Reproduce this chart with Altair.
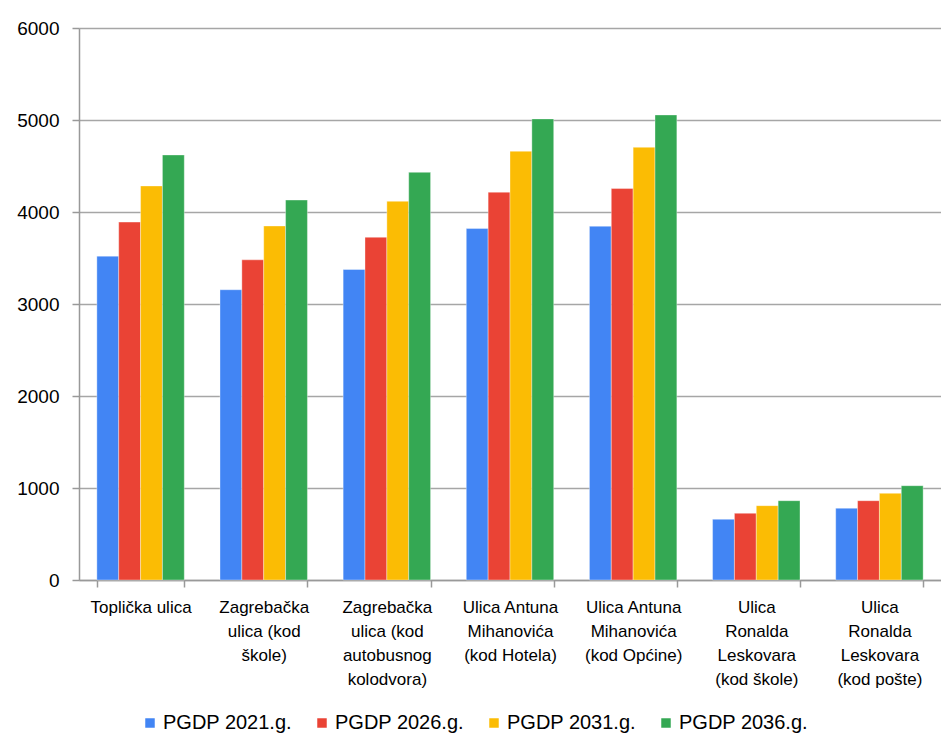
import altair as alt
import pandas as pd

categories = [
    "Toplička ulica",
    "Zagrebačka|ulica (kod|škole)",
    "Zagrebačka|ulica (kod|autobusnog|kolodvora)",
    "Ulica Antuna|Mihanovića|(kod Hotela)",
    "Ulica Antuna|Mihanovića|(kod Općine)",
    "Ulica|Ronalda|Leskovara|(kod škole)",
    "Ulica|Ronalda|Leskovara|(kod pošte)",
]
series = ["PGDP 2021.g.", "PGDP 2026.g.", "PGDP 2031.g.", "PGDP 2036.g."]
v2021 = [3520, 3155, 3375, 3820, 3845, 660, 780]
v2026 = [3890, 3480, 3725, 4215, 4255, 725, 862]
v2031 = [4283, 3848, 4116, 4660, 4703, 808, 942]
v2036 = [4620, 4130, 4431, 5012, 5055, 862, 1025]
colors = ["#4285F4", "#EA4335", "#FBBC04", "#34A853"]

rows = []
for s, vals in zip(series, [v2021, v2026, v2031, v2036]):
    for c, v in zip(categories, vals):
        rows.append({"cat": c, "series": s, "value": v})
df = pd.DataFrame(rows)

chart = alt.Chart(df).mark_bar(stroke="#ffffff", strokeWidth=0.6, strokeOpacity=0.6).encode(
    x=alt.X("cat:N", sort=categories, title=None,
            scale=alt.Scale(paddingInner=0.29, paddingOuter=0.145),
            axis=alt.Axis(labelAngle=0, labelExpr="split(datum.label, '|')",
                          labelFont="Liberation Sans", labelFontSize=17,
                          labelColor="#000000", labelLineHeight=24, labelPadding=12,
                          tickBand="extent", tickSize=7, tickColor="#999999",
                          domainColor="#999999", domainWidth=1.5, tickWidth=1.5,
                          labelLimit=200)),
    xOffset=alt.XOffset("series:N", sort=series),
    y=alt.Y("value:Q", title=None,
            scale=alt.Scale(domain=[0, 6000], nice=False),
            axis=alt.Axis(values=[0, 1000, 2000, 3000, 4000, 5000, 6000], format="d",
                          labelFont="Liberation Sans", labelFontSize=19,
                          labelColor="#000000", labelPadding=13,
                          tickSize=7, tickColor="#999999", tickWidth=1.5,
                          domainColor="#999999", domainWidth=1.5,
                          gridColor="#a6a6a6", gridWidth=1.5)),
    color=alt.Color("series:N", sort=series,
                    scale=alt.Scale(domain=series, range=colors),
                    legend=alt.Legend(orient="none", legendX=61, legendY=685,
                                      direction="horizontal", title=None,
                                      symbolType="square", symbolSize=90,
                                      labelFont="Liberation Sans", labelFontSize=20,
                                      labelColor="#000000", columnPadding=20,
                                      labelOffset=3, symbolStrokeWidth=0)),
).properties(width=862, height=552,
             padding={"top": 11, "left": 8, "right": 0, "bottom": 5}
).configure_view(stroke=None).configure(background="white")

chart.save("out.html", embed_options={"renderer": "svg", "actions": False})
